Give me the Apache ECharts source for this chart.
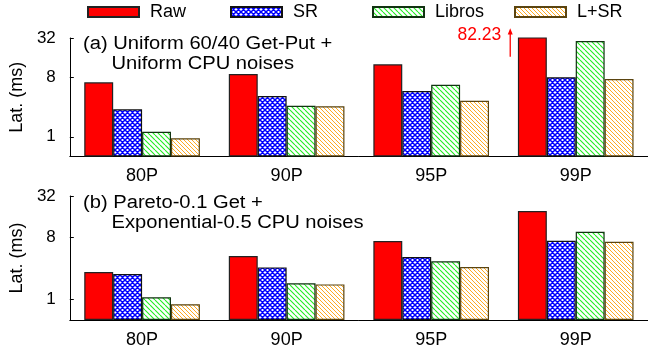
<!DOCTYPE html>
<html><head><meta charset="utf-8">
<script src="https://cdn.jsdelivr.net/npm/echarts@6/dist/echarts.min.js"></script>
<style>html,body{margin:0;padding:0;background:#fff}#c{width:648px;height:353px}</style>
</head><body><div id="c"></div>
<script>
const categories = ['80P', '90P', '95P', '99P'];
const seriesNames = ['Raw', 'SR', 'Libros', 'L+SR'];
// panel (a)
const rawA = [6.75, 9.03, 12.7, 82.23];
const srA = [2.62, 4.17, 4.97, 8.04];
const librosA = [1.19, 2.97, 6.2, 28.8];
const lsrA = [0.95, 2.92, 3.54, 7.57];
// panel (b)
const rawB = [2.5, 4.27, 7.06, 19.3];
const srB = [2.34, 2.92, 4.13, 7.13];
const librosB = [1.07, 1.71, 3.58, 9.65];
const lsrB = [0.85, 1.65, 2.95, 6.9];
const yTicks = [1, 8, 32];
const yMin = 0.5, yMax = 32;
const yName = 'Lat. (ms)';
const titleA = ['(a) Uniform 60/40 Get-Put +', 'Uniform CPU noises'];
const titleB = ['(b) Pareto-0.1 Get +', 'Exponential-0.5 CPU noises'];

const FONT = 'Liberation Sans, Arial, Helvetica, sans-serif';

function hatch(color, p, lw, cross) {
  const c = document.createElement('canvas'); c.width = p; c.height = p;
  const g = c.getContext('2d');
  g.fillStyle = '#fff'; g.fillRect(0, 0, p, p);
  g.strokeStyle = color; g.lineWidth = lw;
  g.beginPath();
  for (let k = -1; k <= 1; k++) {
    g.moveTo(k * p, 0); g.lineTo(k * p + p, p);
    if (cross) { g.moveTo(k * p, p); g.lineTo(k * p + p, 0); }
  }
  g.stroke();
  return { image: c, repeat: 'repeat' };
}

const styles = [
  { color: '#ff0000', borderColor: '#222', borderWidth: 1.2 },
  { color: hatch('#0000ff', 5, 1.5, true), borderColor: '#111', borderWidth: 1.2 },
  { color: hatch('#22ee22', 5, 1.1, false), borderColor: '#113311', borderWidth: 1.2 },
  { color: hatch('#ffaa22', 4, 1.0, false), borderColor: '#5a4410', borderWidth: 1.2 }
];

const dataA = [rawA, srA, librosA, lsrA];
const dataB = [rawB, srB, librosB, lsrB];

const grids = [
  { left: 68, top: 38, width: 586, height: 118.5 },
  { left: 68, top: 196, width: 586, height: 124 }
];

function xAx(i) {
  return {
    type: 'category', gridIndex: i, data: categories,
    axisTick: { show: false },
    axisLine: { lineStyle: { color: '#000', width: 1 } },
    axisLabel: { fontSize: 18, color: '#000', margin: 11, fontFamily: FONT }
  };
}
function yAx(i) {
  return {
    type: 'log', logBase: 2, gridIndex: i, min: yMin, max: yMax, startValue: yMin,
    axisLine: { show: true, lineStyle: { color: '#000', width: 1 } },
    axisTick: { show: true, inside: true, length: 4, customValues: yTicks, lineStyle: { color: '#000' } },
    axisLabel: { customValues: yTicks, fontSize: 17, color: '#000', margin: 14, fontFamily: FONT },
    splitLine: { show: false },
    name: yName, nameLocation: 'middle', nameGap: 43,
    nameTextStyle: { fontSize: 18, color: '#000', fontFamily: FONT }
  };
}

const series = [];
[dataA, dataB].forEach((d, gi) => {
  d.forEach((vals, si) => {
    series.push({
      type: 'bar', name: seriesNames[si], xAxisIndex: gi, yAxisIndex: gi,
      data: vals, barGap: '0%', barCategoryGap: '20%',
      itemStyle: styles[si], emphasis: { disabled: true }, animation: false
    });
  });
});

const legendLefts = [87, 230, 372, 514];
const legends = seriesNames.map((n, i) => ({
  data: [n], left: legendLefts[i], top: 3, padding: 0,
  itemWidth: 51, itemHeight: 10, icon: 'rect', selectedMode: false,
  textStyle: { fontSize: 18, color: '#000', fontFamily: FONT, padding: [0, 0, 0, 6] }
}));

const chart = echarts.init(document.getElementById('c'), null, { renderer: 'canvas' });
chart.setOption({
  animation: false,
  grid: grids,
  xAxis: [xAx(0), xAx(1)],
  yAxis: [yAx(0), yAx(1)],
  legend: legends,
  series: series
});

function titleText(str, x, y) {
  return { type: 'text', x: x, y: y, scaleX: 1.12,
    style: { text: str, fontSize: 18, fill: '#000', fontFamily: FONT, textVerticalAlign: 'middle', textAlign: 'left' } };
}
// annotation for clipped bar (99P Raw in panel a)
const p = chart.convertToPixel({ xAxisIndex: 0, yAxisIndex: 0 }, [categories[3], yMax]);
const ax = p[0] - 65.5;
const graphics = [
  titleText(titleA[0], 83, 44.5), titleText(titleA[1], 111.5, 64.5),
  titleText(titleB[0], 83, 203.5), titleText(titleB[1], 111.5, 223.5),
  { type: 'line', shape: { x1: ax, y1: 56.7, x2: ax, y2: 33 }, style: { stroke: '#ff0000', lineWidth: 1.3 } },
  { type: 'polygon', shape: { points: [[ax - 2.5, 34.5], [ax + 2.5, 34.5], [ax, 28.3]] }, style: { fill: '#ff0000' } },
  { type: 'text', x: ax - 9, y: 35.5,
    style: { text: rawA[3].toFixed(2), fontSize: 17.5, fill: '#ff0000', fontFamily: FONT, textAlign: 'right', textVerticalAlign: 'middle' } }
];
chart.setOption({ graphic: graphics });
</script>
</body></html>
